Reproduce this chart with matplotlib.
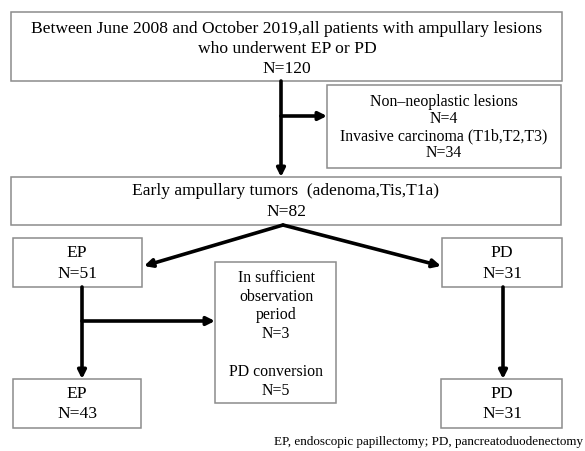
import matplotlib.pyplot as plt
from matplotlib.patches import Rectangle

# box texts and counts
labels = [
    'Between June 2008 and October 2019,all patients with ampullary lesions',
    'Non\u2013neoplastic lesions',
    'Early ampullary tumors  (adenoma,Tis,T1a)',
    'EP',
    'PD',
    'In sufficient',
    'EP',
    'PD',
]
top_line2 = 'who underwent EP or PD'
period_lines = ['observation', 'period']
counts = [120, 4, 82, 51, 31, 3, 43, 31]
invasive_label = 'Invasive carcinoma (T1b,T2,T3)'
invasive_n = 34
conversion_label = 'PD conversion'
conversion_n = 5
footnote = 'EP, endoscopic papillectomy; PD, pancreatoduodenectomy'

plt.rcParams['font.family'] = ['Liberation Serif', 'DejaVu Serif']

fig = plt.figure(figsize=(5.85, 4.52), dpi=100)
ax = fig.add_axes([0, 0, 1, 1])
ax.set_xlim(0, 585)
ax.set_ylim(452, 0)
ax.axis('off')

fs = 12.6
fs_small = 11.4
edge = '#8c8c8c'

# (left, top, right, bottom) in pixels
boxes = [
    (11, 13, 562, 82),
    (327, 86, 561, 169),
    (11, 178, 561, 226),
    (13, 239, 142, 288),
    (442, 239, 562, 288),
    (215, 263, 336, 404),
    (13, 380, 141, 429),
    (441, 380, 562, 429),
]
for (l, t, r, b) in boxes:
    ax.add_patch(Rectangle((l, t), r - l, b - t, fill=False, ec=edge, lw=1.1))

def txt(x, y, s, size=fs, ha='center'):
    ax.text(x, y, s, ha=ha, va='center', fontsize=size)

# top box
txt(287, 29, labels[0])
txt(287, 49, top_line2)
txt(287, 69, f'N={counts[0]}')
# exclusion box
txt(444, 102, labels[1], fs_small)
txt(444, 119, f'N={counts[1]}', fs_small)
txt(444, 136, invasive_label, fs_small)
txt(444, 153, f'N={invasive_n}', fs_small)
# early tumors
txt(286, 191, labels[2])
txt(286, 212, f'N={counts[2]}')
# EP / PD
txt(77, 253, labels[3])
txt(77, 274, f'N={counts[3]}')
txt(502, 253, labels[4])
txt(502, 274, f'N={counts[4]}')
# middle box
txt(276, 278, labels[5], fs_small)
txt(276, 297, period_lines[0], fs_small)
txt(276, 315, period_lines[1], fs_small)
txt(276, 334, f'N={counts[5]}', fs_small)
txt(276, 372, conversion_label, fs_small)
txt(276, 391, f'N={conversion_n}', fs_small)
# bottom boxes
txt(77, 394, labels[6])
txt(77, 414, f'N={counts[6]}')
txt(502, 394, labels[7])
txt(502, 414, f'N={counts[7]}')

txt(583, 442, footnote, size=9.45, ha='right')

lw = 2.6
def arrow(x0, y0, x1, y1):
    ax.annotate('', xy=(x1, y1), xytext=(x0, y0),
                arrowprops=dict(arrowstyle='-|>', lw=lw, color='black',
                                mutation_scale=12, shrinkA=0, shrinkB=0))

arrow(281, 82, 281, 178)
arrow(281, 117, 327, 117)
arrow(283, 226, 144, 267)
arrow(283, 226, 441, 267)
arrow(82, 288, 82, 380)
arrow(82, 322, 215, 322)
arrow(503, 288, 503, 380)

fig.savefig('out.png', dpi=100)
